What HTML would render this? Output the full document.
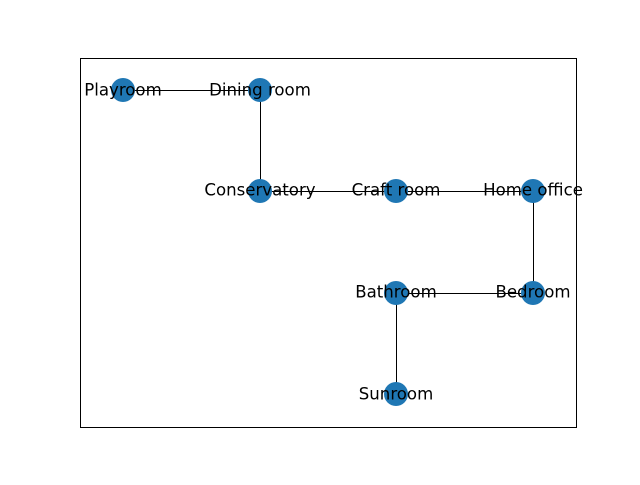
<!DOCTYPE html>
<html><head><style>html,body{margin:0;padding:0;background:#fff;}</style></head>
<body>
<svg width="640" height="480" xmlns="http://www.w3.org/2000/svg">
<rect x="0" y="0" width="640" height="480" fill="#fff"/>
<rect x="80.5" y="58.5" width="496" height="369" fill="none" stroke="#000" stroke-width="1"/>
<g stroke="#000" stroke-width="1">
<line x1="123" y1="90.5" x2="260" y2="90.5"/>
<line x1="260.5" y1="90" x2="260.5" y2="191"/>
<line x1="260" y1="191.5" x2="533" y2="191.5"/>
<line x1="533.5" y1="191" x2="533.5" y2="293"/>
<line x1="396" y1="293.5" x2="533" y2="293.5"/>
<line x1="396.5" y1="293" x2="396.5" y2="394"/>
</g>
<g fill="#1f77b4">
<circle cx="123" cy="90" r="12"/>
<circle cx="260" cy="90" r="12"/>
<circle cx="260" cy="191" r="12"/>
<circle cx="396" cy="191" r="12"/>
<circle cx="533" cy="191" r="12"/>
<circle cx="396" cy="293" r="12"/>
<circle cx="533" cy="293" r="12"/>
<circle cx="396" cy="394" r="12"/>
</g>
<g font-family="DejaVu Sans, Liberation Sans, sans-serif" font-size="16.6" text-anchor="middle" fill="#000" dominant-baseline="central">
<text x="123" y="90">Playroom</text>
<text x="260" y="90">Dining room</text>
<text x="260" y="190">Conservatory</text>
<text x="396" y="190">Craft room</text>
<text x="533" y="190">Home office</text>
<text x="396" y="292">Bathroom</text>
<text x="533" y="292">Bedroom</text>
<text x="396" y="394">Sunroom</text>
</g>
</svg>
</body></html>
